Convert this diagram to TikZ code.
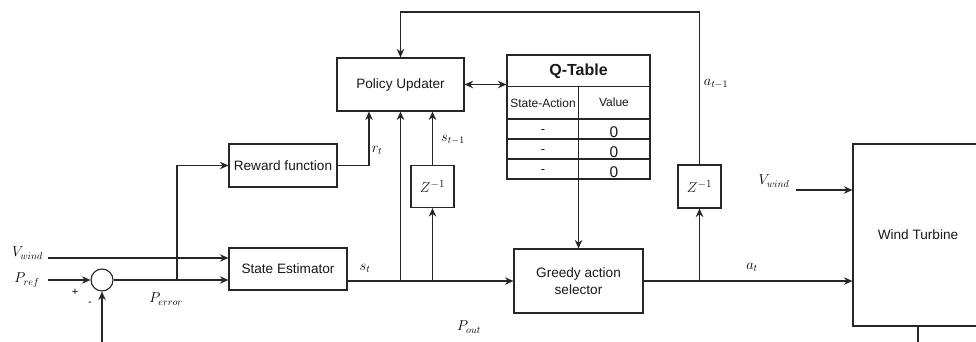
\documentclass[tikz,border=0pt]{standalone}
\usepackage{fontspec}
\setmainfont{Liberation Sans}
\usetikzlibrary{arrows.meta}
\begin{document}
\begin{tikzpicture}[x=1pt,y=-1pt,
  wire/.style={draw=black!85, line width=1.15pt},
  arr/.style={wire, -{Stealth[length=8.5pt,width=7.5pt]}},
  dblarr/.style={wire, {Stealth[length=8.5pt,width=7.5pt]}-{Stealth[length=8.5pt,width=7.5pt]}},
  blk/.style={draw=black!85, line width=1.15pt, inner sep=0pt, text=black!90,
    font=\fontsize{13.6}{16.5}\selectfont},
  lbl/.style={inner sep=0pt, font=\fontsize{14}{16}\selectfont},
  cell/.style={inner sep=0pt, text=black!90},
]
\useasboundingbox (0,0) rectangle (976,342);
\fill[white] (0,0) rectangle (976,342);

% ---- blocks ----
\node[blk, minimum width=127pt, minimum height=53pt] (pol) at (400.5,84.5) {Policy Updater};
\node[blk, minimum width=108pt, minimum height=43pt] (rew) at (283,165.5) {Reward function};
\node[blk, minimum width=118pt, minimum height=42pt] (se) at (288,269) {State Estimator};
\node[blk, minimum width=43pt, minimum height=42pt, font=\fontsize{15}{17}\selectfont] (z1) at (432.5,186.5) {$Z^{-1}$};
\node[blk, minimum width=129pt, minimum height=64pt, align=center] (gas) at (578.5,281) {Greedy action\\selector};
\node[blk, minimum width=43pt, minimum height=43pt, font=\fontsize{15}{17}\selectfont] (z2) at (699.5,186.5) {$Z^{-1}$};
\node[blk, minimum width=130pt, minimum height=182pt] (wt) at (918,235) {Wind Turbine};
\node[draw=black!85, line width=1.15pt, circle, minimum size=22pt, inner sep=0pt] (sum) at (102,280) {};

% ---- Q-table ----
\node[draw=black!85, line width=1.15pt, minimum width=143pt, minimum height=124pt, inner sep=0pt] (qt) at (578.5,117) {};
\draw[wire] (507,86.7) -- (650,86.7);
\draw[wire] (507,119) -- (650,119);
\draw[wire] (507,139) -- (650,139);
\draw[wire] (507,159) -- (650,159);
\draw[wire] (578.5,86.7) -- (578.5,179);
\node[cell, font=\bfseries\fontsize{16}{18}\selectfont] (qtitle) at (578.5,71) {Q-Table};
\node[cell, font=\fontsize{12}{14}\selectfont] (qsa) at (543,103) {State-Action};
\node[cell, font=\fontsize{12}{14}\selectfont] (qval) at (614,102) {Value};
\foreach \r/\y in {1/129,2/149,3/169}{
  \node[cell, font=\fontsize{13}{15}\selectfont] (qk\r) at (543,\y+3) {-};
  \node[cell, font=\fontsize{15.5}{17}\selectfont] (qv\r) at (614,\y+3.5) {0};
}

% ---- free ends and branch points ----
\coordinate (vwl) at (48,258);
\coordinate (pref) at (48,280);
\coordinate (fb) at (102,342);
\coordinate (perr) at (177,280);
\coordinate (rtx) at (369,165.5);
\coordinate (b1) at (400.5,281);
\coordinate (b2) at (432.5,281);
\coordinate (b3) at (699.5,281);
\coordinate (top) at (0,12);
\coordinate (vwr) at (796,190);
\coordinate (wtb) at (918,342);

% ---- connectors ----
\draw[arr] (vwl) -- (se.west |- vwl);
\draw[arr] (pref) -- (sum.west);
\draw[arr] (fb) -- (sum.south);
\draw[arr] (sum.east) -- (se.west |- sum.east);
\draw[arr] (perr) |- (rew.west);
\draw[arr] (rew.east) -- (rtx) -- (rtx |- pol.south);
\draw[arr] (se.east |- gas.west) -- (gas.west);
\draw[arr] (b1) -- (b1 |- pol.south);
\draw[arr] (b2) -- (z1.south);
\draw[arr] (z1.north) -- (z1.north |- pol.south);
\draw[dblarr] (pol.east) -- (qt.west |- pol.east);
\draw[arr] (qt.south) -- (gas.north);
\draw[arr] (gas.east) -- (wt.west |- gas.east);
\draw[arr] (b3) -- (z2.south);
\draw[arr] (z2.north) -- (z2.north |- top) -| (pol.north);
\draw[arr] (vwr) -- (wt.west |- vwr);
\draw[wire] (wt.south) -- (wtb);

% ---- signal labels ----
\node[lbl] (lvw1) at (27.5,253) {$V_{wind}$};
\node[lbl] (lpref) at (27,280) {$P_{ref}$};
\node[inner sep=0pt, font=\fontsize{11}{12}\selectfont] (lplus) at (75,292) {+};
\node[inner sep=0pt, font=\fontsize{11}{12}\selectfont] (lminus) at (90,304) {-};
\node[lbl] (lperr) at (166,299) {$P_{error}$};
\node[lbl] (lrt) at (377,150) {$r_t$};
\node[lbl] (lst1) at (453,140) {$s_{t-1}$};
\node[lbl] (lst) at (365,268) {$s_t$};
\node[lbl] (lpout) at (469,327) {$P_{out}$};
\node[lbl] (lat1) at (716,84) {$a_{t-1}$};
\node[lbl] (lat) at (752,267) {$a_t$};
\node[lbl] (lvw2) at (774,181) {$V_{wind}$};
\end{tikzpicture}
\end{document}
